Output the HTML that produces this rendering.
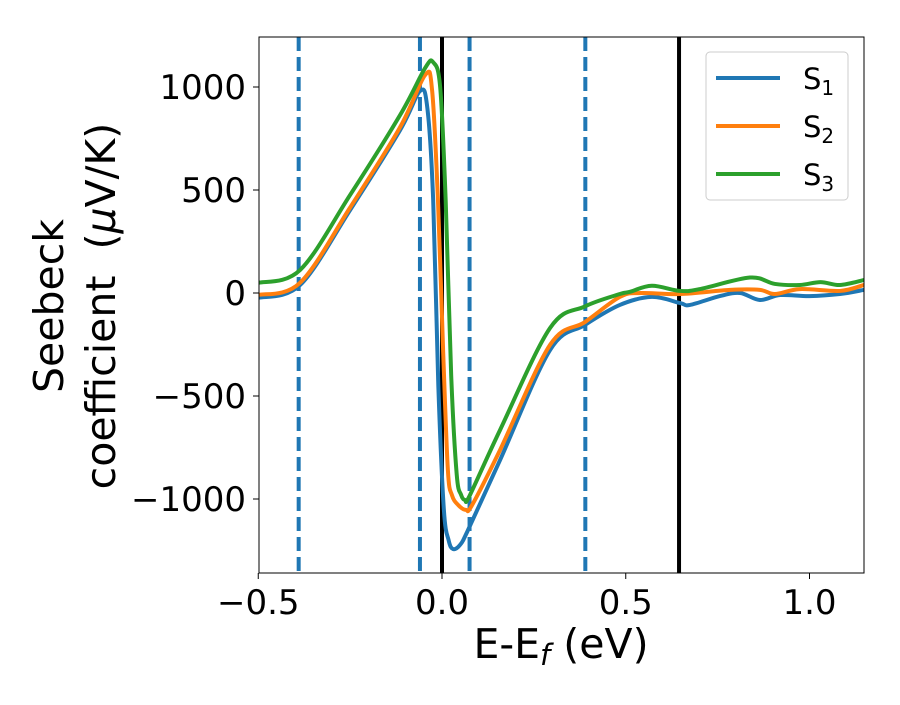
<!DOCTYPE html>
<html><head><meta charset="utf-8"><style>
body{margin:0;background:#fff;font-family:"Liberation Sans","DejaVu Sans",sans-serif}
svg text{font-family:"DejaVu Sans","Liberation Sans",sans-serif}
</style></head><body>
<svg id="c" width="900" height="700"></svg>
<script>
const s1x=[-0.5,-0.386,-0.25,-0.114,-0.06,-0.04,-0.024,-0.01,0.005,0.018,0.03,0.049,0.071,0.158,0.294,0.389,0.484,0.571,0.648,0.675,0.756,0.811,0.865,0.92,1.0,1.083,1.148];
const s1y=[-24,39,403,791,980,900,451,-450,-1050,-1200,-1243,-1223,-1150,-811,-277,-155,-58,-19,-49,-58,-15,0,-34,-10,-15,-5,15];
const s2x=[-0.5,-0.386,-0.25,-0.114,-0.046,-0.027,-0.011,0.003,0.016,0.027,0.044,0.065,0.082,0.158,0.294,0.389,0.484,0.54,0.648,0.784,0.865,0.906,0.974,1.083,1.148];
const s2y=[-10,50,415,805,1058,985,451,-277,-859,-981,-1029,-1053,-1029,-762,-252,-141,-19,0,-5,15,15,-5,19,10,39];
const s3x=[-0.5,-0.386,-0.25,-0.114,-0.046,-0.024,-0.005,0.01,0.025,0.04,0.052,0.063,0.076,0.158,0.294,0.389,0.484,0.51,0.571,0.648,0.702,0.838,0.906,0.974,1.03,1.083,1.148];
const s3y=[49,112,476,864,1092,1120,1000,450,-400,-880,-980,-1005,-981,-665,-170,-65,-5,5,35,10,19,75,44,39,53,39,63];
const dashedX=[-0.39,-0.06,0.075,0.39];
const solidX=[0,0.645];
const xTicks=[-0.5,0.0,0.5,1.0];
const xTickLabels=["\u22120.5","0.0","0.5","1.0"];
const yTicks=[-1000,-500,0,500,1000];
const yTickLabels=["\u22121000","\u2212500","0","500","1000"];
const seriesNames=["1","2","3"];
const colors=["#1f77b4","#ff7f0e","#2ca02c"];

const L=259,R=864,T=37,B=573;
const X=v=>442+v*367.5, Y=v=>293-v*0.206;
const svg=document.getElementById('c');
const NS='http://www.w3.org/2000/svg';
function mk(t,a,p){const e=document.createElementNS(NS,t);for(const k in a)e.setAttribute(k,a[k]);(p||svg).appendChild(e);return e;}
const defs=mk('defs',{});const cp=mk('clipPath',{id:'cp'},defs);mk('rect',{x:L,y:T,width:R-L,height:B-T},cp);
const g=mk('g',{'clip-path':'url(#cp)'});
dashedX.forEach(v=>{const e=mk('line',{x1:X(v),x2:X(v),y1:T,y2:B,stroke:'#1f77b4','stroke-width':4,'stroke-dasharray':'14,6'},g);
});
solidX.forEach(v=>{const e=mk('line',{x1:X(v),x2:X(v),y1:T,y2:B,stroke:'#000','stroke-width':4},g);
});
function path(xs,ys){const p=xs.map((x,i)=>[X(x),Y(ys[i])]);let d='M'+p[0];
for(let i=0;i<p.length-1;i++){const p0=p[i-1]||p[i],p1=p[i],p2=p[i+1],p3=p[i+2]||p2;const t=6;
d+='C'+(p1[0]+(p2[0]-p0[0])/t)+','+(p1[1]+(p2[1]-p0[1])/t)+' '+(p2[0]-(p3[0]-p1[0])/t)+','+(p2[1]-(p3[1]-p1[1])/t)+' '+p2;}return d;}
[[s1x,s1y],[s2x,s2y],[s3x,s3y]].forEach((s,i)=>{const e=mk('path',{d:path(s[0],s[1]),fill:'none',stroke:colors[i],'stroke-width':4,'stroke-linejoin':'round'},g);
});
const fr=mk('rect',{x:L,y:T,width:R-L,height:B-T,fill:'none',stroke:'#000','stroke-width':1});

xTicks.forEach((v,i)=>{mk('line',{x1:X(v),x2:X(v),y1:B,y2:B+6,stroke:'#000'});
const t=mk('text',{x:X(v),y:B+41,'text-anchor':'middle','font-size':34});t.textContent=xTickLabels[i];
});
yTicks.forEach((v,i)=>{mk('line',{x1:L-6,x2:L,y1:Y(v),y2:Y(v),stroke:'#000'});
const t=mk('text',{x:L-13,y:Y(v)+12,'text-anchor':'end','font-size':34});t.textContent=yTickLabels[i];
});
const xt=mk('text',{x:561,y:658,'text-anchor':'middle','font-size':41});xt.innerHTML='E-E<tspan font-style="italic" font-size="29" dy="7">f</tspan><tspan dy="-7"> (eV)</tspan>';

const yt=mk('text',{transform:'translate(63,306) rotate(-90)','text-anchor':'middle','font-size':41});
yt.innerHTML='<tspan x="0" dy="0">Seebeck</tspan><tspan x="0" dy="52">coefficient&#160;&#160;(<tspan font-style="italic">μ</tspan>V/K)</tspan>';

const lg=mk('g',{});
mk('rect',{x:706,y:52,width:142,height:148,rx:4,fill:'#fff',stroke:'#ccc'},lg);
seriesNames.forEach((n,i)=>{const y=78+i*48;const eg=mk('g',{},lg);

mk('line',{x1:716,x2:780,y1:y,y2:y,stroke:colors[i],'stroke-width':4},eg);
const t=mk('text',{x:803,y:y+11,'font-size':29},eg);t.innerHTML='S<tspan font-size="20" dy="6">'+n+'</tspan>';});
</script></body></html>
